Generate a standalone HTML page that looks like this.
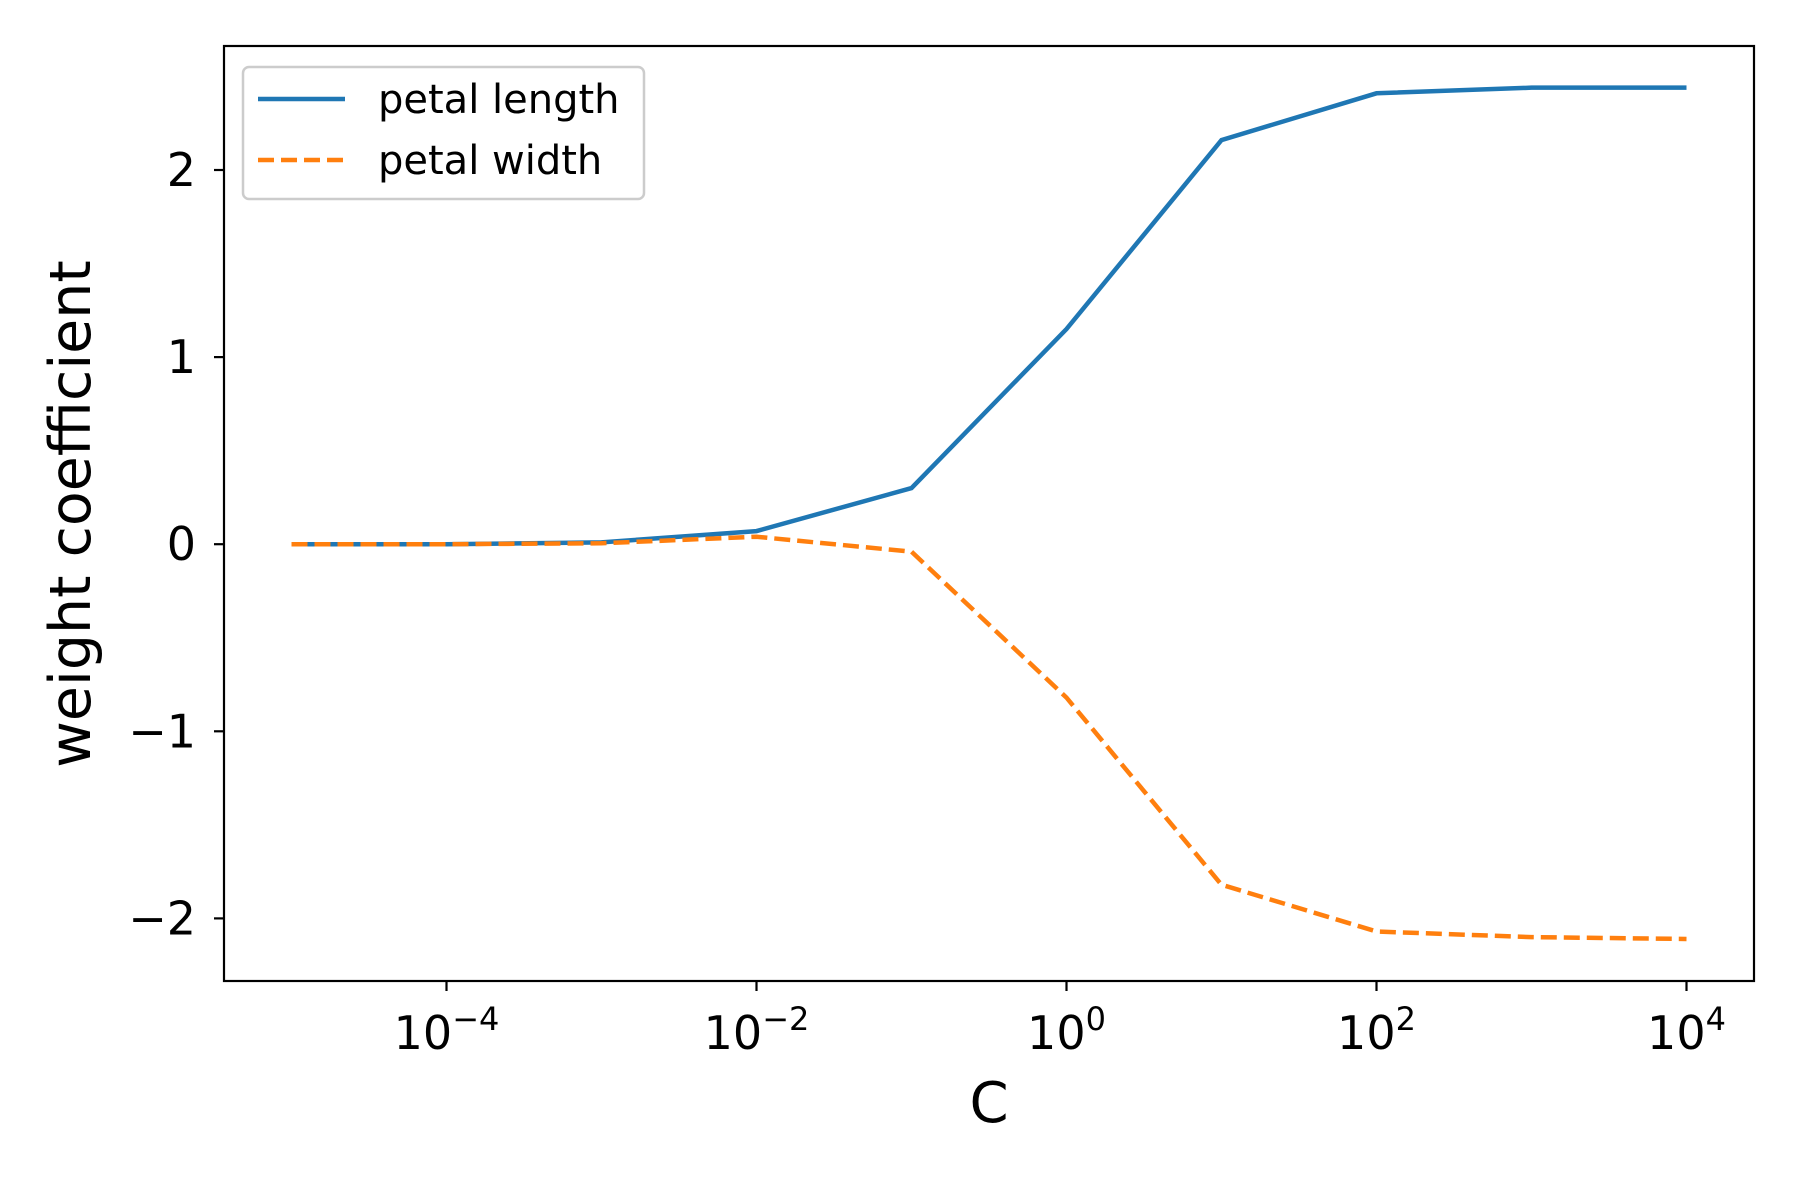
<!DOCTYPE html>
<html><head><meta charset="utf-8"><style>
body{margin:0;background:#fff}
svg{display:block;font-family:"DejaVu Sans","Liberation Sans",sans-serif}
</style></head><body>
<svg id="chart" width="1800" height="1200" viewBox="0 0 1800 1200">
<rect width="1800" height="1200" fill="#fff"/>
<g id="plot"></g>
</svg>
<script>
const logC = [-5,-4,-3,-2,-1,0,1,2,3,4];
const petalLength = [0,0,0.01,0.07,0.30,1.15,2.16,2.41,2.44,2.44];
const petalWidth = [0,0,0.005,0.04,-0.04,-0.82,-1.82,-2.07,-2.10,-2.11];
const xTicks = [-4,-2,0,2,4];
const yTicks = [-2,-1,0,1,2];

const L=224,R=1754,T=46,B=981;
const X=v=>1066.5+v*155.0;
const Y=v=>544.2-v*187.1;
const NS='http://www.w3.org/2000/svg';
const g=document.getElementById('plot');
function mk(t,a,p){const e=document.createElementNS(NS,t);for(const k in a)e.setAttribute(k,a[k]);(p||g).appendChild(e);return e;}

const pts1=logC.map((c,i)=>X(c)+','+Y(petalLength[i])).join(' ');
const s1=mk('polyline',{points:pts1,fill:'none',stroke:'#1f77b4','stroke-width':4.5});


const pts2=logC.map((c,i)=>X(c)+','+Y(petalWidth[i])).join(' ');
const s2=mk('polyline',{points:pts2,fill:'none',stroke:'#ff7f0e','stroke-width':4.5,'stroke-dasharray':'16,7'});



const fr=mk('rect',{x:L,y:T,width:R-L,height:B-T,fill:'none',stroke:'#000','stroke-width':2.2});



xTicks.forEach(v=>{
  const x=X(v);
  mk('line',{x1:x,y1:B,x2:x,y2:B+10,stroke:'#000','stroke-width':2.2});
  const t=mk('text',{x:x,y:B+68,'font-size':46,'text-anchor':'middle',fill:'#000'});
  
  
  t.innerHTML='10<tspan dy="-19" font-size="32">'+(v<0?'\u2212'+(-v):v)+'</tspan>';
});
yTicks.forEach(v=>{
  const y=Y(v);
  mk('line',{x1:L-10,y1:y,x2:L,y2:y,stroke:'#000','stroke-width':2.2});
  const t=mk('text',{x:L-28,y:y+16,'font-size':46,'text-anchor':'end',fill:'#000'});
  
  
  t.textContent=v<0?'\u2212'+(-v):String(v);
});
const xt=mk('text',{x:(L+R)/2,y:1122,'font-size':56,'text-anchor':'middle',fill:'#000'});


xt.textContent='C';
const yt=mk('text',{x:0,y:0,'font-size':57,'text-anchor':'middle',fill:'#000',transform:'translate(90,514) rotate(-90)'});


yt.textContent='weight coefficient';

const lg=mk('g',{});


mk('rect',{x:243,y:67,width:401,height:132,rx:6,fill:'#fff',stroke:'#ccc','stroke-width':2.5},lg);
mk('line',{x1:258,y1:99,x2:345,y2:99,stroke:'#1f77b4','stroke-width':4.5},lg);
mk('line',{x1:258,y1:160,x2:345,y2:160,stroke:'#ff7f0e','stroke-width':4.5,'stroke-dasharray':'16,7'},lg);
const l1=mk('text',{x:378,y:113,'font-size':40,fill:'#000'},lg);


l1.textContent='petal length';
const l2=mk('text',{x:378,y:174,'font-size':40,fill:'#000'},lg);


l2.textContent='petal width';
</script>
</body></html>
